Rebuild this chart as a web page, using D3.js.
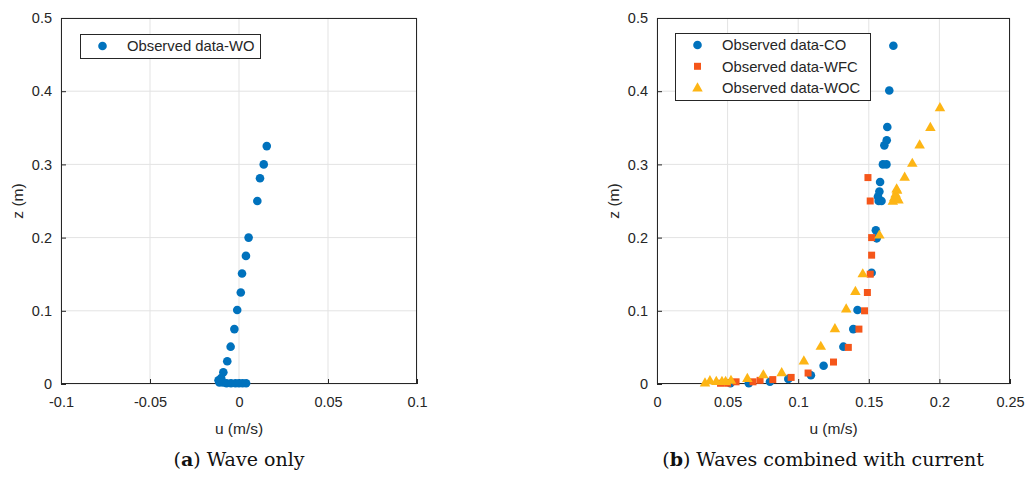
<!DOCTYPE html>
<html><head><meta charset="utf-8">
<script src="https://cdn.jsdelivr.net/npm/d3@7/dist/d3.min.js"></script>
<style>body{margin:0;background:#fff}svg{display:block}</style>
</head><body>
<svg id="c" width="1030" height="480"></svg>
<script>
// ---- data ----
const woU = [0.0156,0.0139,0.0118,0.0103,0.0054,0.0039,0.0017,0.0010,-0.0010,-0.0026,-0.0047,-0.0066,-0.0088,-0.0100,-0.0115,-0.0110,-0.0090,-0.0070,-0.0045,-0.0020,0.0000,0.0020,0.0040];
const woZ = [0.325,0.300,0.281,0.250,0.200,0.175,0.151,0.125,0.101,0.075,0.051,0.031,0.016,0.008,0.005,0.002,0.002,0.001,0.001,0.001,0.001,0.001,0.001];

const coU = [0.052,0.065,0.080,0.093,0.109,0.118,0.132,0.139,0.142,0.152,0.1556,0.155,0.157,0.159,0.1565,0.1575,0.158,0.160,0.1625,0.161,0.1627,0.1631,0.1645,0.1674];
const coZ = [0.001,0.001,0.003,0.007,0.012,0.025,0.051,0.075,0.101,0.152,0.199,0.210,0.250,0.250,0.256,0.263,0.276,0.300,0.300,0.326,0.333,0.351,0.401,0.462];

const wfcU = [0.045,0.050,0.056,0.068,0.073,0.082,0.095,0.107,0.125,0.1355,0.143,0.147,0.149,0.151,0.152,0.152,0.151,0.1494];
const wfcZ = [0.001,0.001,0.003,0.003,0.005,0.006,0.009,0.015,0.030,0.050,0.075,0.100,0.125,0.150,0.176,0.200,0.250,0.282];

const wocU = [0.034,0.0375,0.042,0.046,0.0486,0.0524,0.064,0.0753,0.0883,0.104,0.116,0.126,0.134,0.1405,0.1457,0.1575,0.167,0.168,0.170,0.171,0.169,0.170,0.1697,0.1754,0.1808,0.186,0.1936,0.2004];
const wocZ = [0.002,0.005,0.004,0.004,0.004,0.0055,0.008,0.013,0.016,0.032,0.052,0.076,0.103,0.127,0.151,0.204,0.250,0.255,0.255,0.252,0.260,0.265,0.267,0.283,0.302,0.327,0.351,0.378];

const leftXTicks = [-0.1,-0.05,0,0.05,0.1];
const leftXLabels = ["-0.1","-0.05","0","0.05","0.1"];
const rightXTicks = [0,0.05,0.1,0.15,0.2,0.25];
const rightXLabels = ["0","0.05","0.1","0.15","0.2","0.25"];
const yTicks = [0,0.1,0.2,0.3,0.4,0.5];
const yLabels = ["0","0.1","0.2","0.3","0.4","0.5"];

const leftLegend = ["Observed data-WO"];
const rightLegend = ["Observed data-CO","Observed data-WFC","Observed data-WOC"];
const captions = [["a"," Wave only"],["b"," Waves combined with current"]];

const BLUE="#0072BD", ORANGE="#F5561A", YELLOW="#FDB515";
const AX="#262626", GRID="#e3e3e3";
const FONT="'Liberation Sans', Arial, sans-serif";

const svg = d3.select("#c");
svg.append("rect").attr("width",1030).attr("height",480).attr("fill","#fff");

function panel(x0,x1,xDomain,xTicks,xLabels){
  const x = d3.scaleLinear().domain(xDomain).range([x0,x1]);
  const y = d3.scaleLinear().domain([0,0.5]).range([384,18]);
  const g = svg.append("g");
  g.selectAll(".gx").data(xTicks).enter().append("line")
    .attr("x1",d=>x(d)).attr("x2",d=>x(d)).attr("y1",y(0)).attr("y2",y(0.5))
    .attr("stroke",GRID).attr("stroke-width",1);
  g.selectAll(".gy").data(yTicks).enter().append("line")
    .attr("x1",x0).attr("x2",x1).attr("y1",d=>y(d)).attr("y2",d=>y(d))
    .attr("stroke",GRID).attr("stroke-width",1);
  const xa = d3.axisBottom(x).tickValues(xTicks).tickFormat((d,i)=>xLabels[i]).tickSize(-5).tickPadding(13);
  const ya = d3.axisLeft(y).tickValues(yTicks).tickFormat((d,i)=>yLabels[i]).tickSize(-5).tickPadding(9);
  const gx = g.append("g").attr("transform",`translate(0,${y(0)})`).call(xa);
  const gy = g.append("g").attr("transform",`translate(${x0},0)`).call(ya);
  [gx,gy].forEach(a=>{
    a.select(".domain").remove();
    a.selectAll("line").attr("stroke",AX);
    a.selectAll("text").attr("fill",AX).style("font-family",FONT).style("font-size","14.5px");
  });
  g.append("rect").attr("x",x0+0.5).attr("y",y(0.5)+0.5).attr("width",x1-x0-1).attr("height",y(0)-y(0.5)-1)
    .attr("fill","none").attr("stroke",AX).attr("stroke-width",1);
  g.append("text").attr("x",(x0+x1)/2).attr("y",434).attr("text-anchor","middle")
    .attr("fill",AX).style("font-family",FONT).style("font-size","15.5px").text("u (m/s)");
  g.append("text").attr("transform",`translate(${x0-38},${(y(0)+y(0.5))/2}) rotate(-90)`).attr("text-anchor","middle")
    .attr("fill",AX).style("font-family",FONT).style("font-size","15.5px").text("z (m)");
  return {x,y,g};
}

function circles(p,U,Z,col){
  p.g.selectAll(null).data(U).enter().append("circle")
    .attr("cx",(d)=>p.x(d)).attr("cy",(d,i)=>p.y(Z[i])).attr("r",4.3).attr("fill",col);
}
function squares(p,U,Z,col){
  p.g.selectAll(null).data(U).enter().append("rect")
    .attr("x",d=>p.x(d)-3.5).attr("y",(d,i)=>p.y(Z[i])-3.5).attr("width",7).attr("height",7).attr("fill",col);
}
const tri = d3.symbol().type(d3.symbolTriangle).size(48);
function triangles(p,U,Z,col){
  p.g.selectAll(null).data(U).enter().append("path")
    .attr("d",tri).attr("transform",(d,i)=>`translate(${p.x(d)},${p.y(Z[i])+0.8})`).attr("fill",col);
}

const L = panel(61,417,[-0.1,0.1],leftXTicks,leftXLabels);
circles(L,woU,woZ,BLUE);
const R = panel(657,1010,[0,0.25],rightXTicks,rightXLabels);
circles(R,coU,coZ,BLUE);
squares(R,wfcU,wfcZ,ORANGE);
triangles(R,wocU,wocZ,YELLOW);

function legend(x,y,w,h,items,kinds,cols){
  const g = svg.append("g");
  g.append("rect").attr("x",x+0.5).attr("y",y+0.5).attr("width",w).attr("height",h).attr("fill","#fff").attr("stroke",AX);
  items.forEach((t,i)=>{
    const cy = y + 12 + i*21.3;
    const mx = x + 22.5;
    if(kinds[i]==="c") g.append("circle").attr("cx",mx).attr("cy",cy).attr("r",4.3).attr("fill",cols[i]);
    else if(kinds[i]==="s") g.append("rect").attr("x",mx-3.5).attr("y",cy-3.5).attr("width",7).attr("height",7).attr("fill",cols[i]);
    else g.append("path").attr("d",tri).attr("transform",`translate(${mx},${cy+0.8})`).attr("fill",cols[i]);
    g.append("text").attr("x",x+47).attr("y",cy).attr("dy","0.36em").attr("fill",AX)
      .style("font-family",FONT).style("font-size","14.8px").text(t);
  });
}
legend(80,34,180,24,leftLegend,["c"],[BLUE]);
legend(675,33,195,67,rightLegend,["c","s","t"],[BLUE,ORANGE,YELLOW]);

[[239,captions[0]],[823,captions[1]]].forEach(([cx,c])=>{
  const t = svg.append("text").attr("x",cx).attr("y",466).attr("text-anchor","middle")
    .style("font-family","'DejaVu Serif','Liberation Serif',serif").style("font-size","19px").attr("fill","#111");
  t.append("tspan").text("(");
  t.append("tspan").attr("font-weight","bold").text(c[0]);
  t.append("tspan").text(")"+c[1]);
});
</script>
</body></html>
